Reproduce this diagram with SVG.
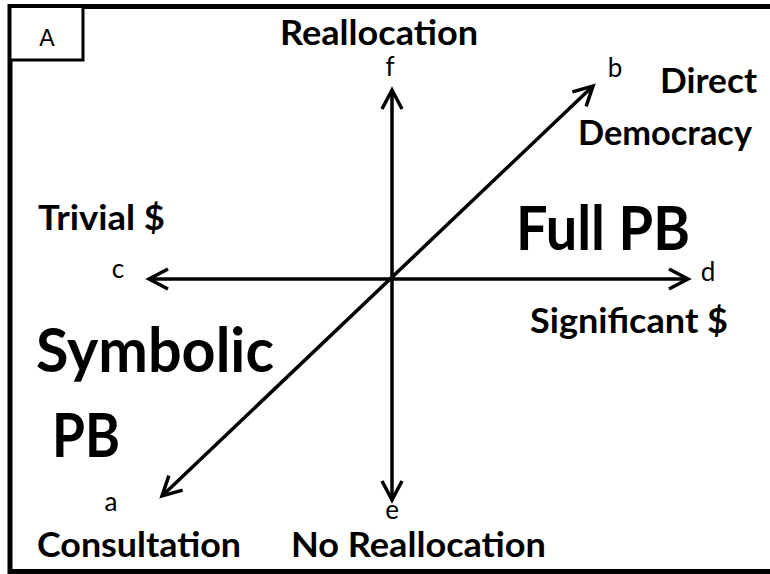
<svg xmlns="http://www.w3.org/2000/svg" width="770" height="574" viewBox="0 0 770 574">
  <style>
    .frame { fill: none; stroke: #000; stroke-width: 5; }
    .tag { fill: #fff; stroke: #000; stroke-width: 3; }
    .axis { fill: none; stroke: #000; stroke-width: 3.5; stroke-linecap: butt; }
    .h { font-family: Lato, "Open Sans", sans-serif; font-weight: bold; font-size: 35px; fill: #000; }
    .big { font-family: Lato, "Open Sans", sans-serif; font-weight: bold; font-size: 61px; fill: #000; }
    .s { font-family: Lato, "Open Sans", sans-serif; font-size: 26px; fill: #000; text-anchor: middle; }
    .lab { font-family: "Liberation Sans", Arial, sans-serif; font-size: 23px; fill: #000; text-anchor: middle; }
  </style>
  <defs>
    <marker id="chev" viewBox="-22 -12 26 24" refX="0" refY="0" markerWidth="26" markerHeight="24" markerUnits="userSpaceOnUse" orient="auto-start-reverse">
      <path d="M-19,-10 L0,0 L-19,10" fill="none" stroke="#000" stroke-width="3.5" stroke-linejoin="miter"/>
    </marker>
  </defs>
  <rect width="770" height="574" fill="#fff"/>
  <rect class="frame" x="10" y="6.5" width="800" height="565"/>
  <g id="panel-label">
    <rect class="tag" x="10" y="6.5" width="73" height="53.5"/>
    <text class="lab" x="47" y="46">A</text>
  </g>
  <g id="connectors">
    <line class="axis" x1="392" y1="500" x2="392" y2="90" marker-start="url(#chev)" marker-end="url(#chev)"/>
    <line class="axis" x1="149" y1="279" x2="688" y2="279" marker-start="url(#chev)" marker-end="url(#chev)"/>
    <line class="axis" x1="162" y1="496" x2="593" y2="86" marker-start="url(#chev)" marker-end="url(#chev)"/>
  </g>
  <g id="node-f">
    <text class="s" x="390" y="76">f</text>
    <text class="h" x="280" y="45" textLength="198" lengthAdjust="spacingAndGlyphs">Reallocation</text>
  </g>
  <g id="node-b">
    <text class="s" x="615" y="77">b</text>
    <text class="h" x="660" y="93" textLength="97" lengthAdjust="spacingAndGlyphs">Direct</text>
    <text class="h" x="578" y="145" textLength="174" lengthAdjust="spacingAndGlyphs">Democracy</text>
  </g>
  <g id="node-c">
    <text class="s" x="118" y="278">c</text>
    <text class="h" x="38" y="230" textLength="127" lengthAdjust="spacingAndGlyphs">Trivial $</text>
  </g>
  <g id="node-d">
    <text class="s" x="708" y="281">d</text>
    <text class="h" x="530" y="333" textLength="198" lengthAdjust="spacingAndGlyphs">Significant $</text>
  </g>
  <g id="node-a">
    <text class="s" x="111" y="511">a</text>
    <text class="h" x="37" y="557" textLength="204" lengthAdjust="spacingAndGlyphs">Consultation</text>
  </g>
  <g id="node-e">
    <text class="s" x="392" y="519">e</text>
    <text class="h" x="291" y="557" textLength="255" lengthAdjust="spacingAndGlyphs">No Reallocation</text>
  </g>
  <g id="region-full">
    <text class="big" x="516" y="250" textLength="174" lengthAdjust="spacingAndGlyphs">Full PB</text>
  </g>
  <g id="region-symbolic">
    <text class="big" x="36" y="372" textLength="238" lengthAdjust="spacingAndGlyphs">Symbolic</text>
    <text class="big" x="52" y="457" textLength="68" lengthAdjust="spacingAndGlyphs">PB</text>
  </g>
</svg>
